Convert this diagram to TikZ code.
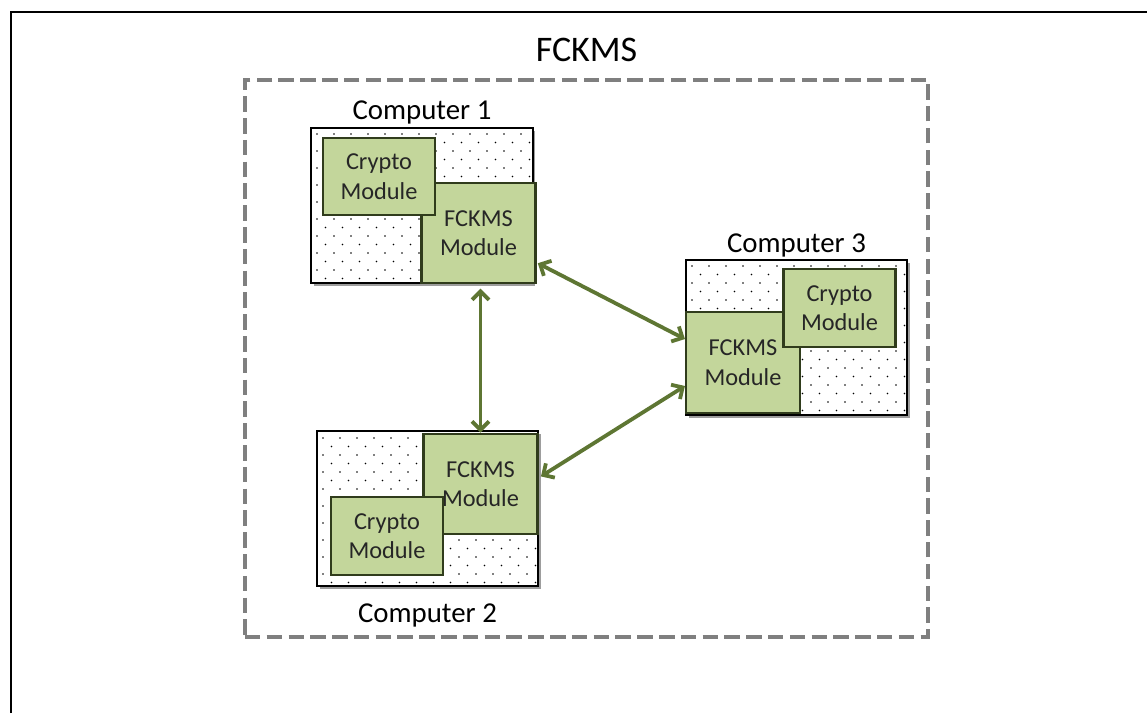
\documentclass[tikz,border=0pt]{standalone}
\usepackage{fontspec}
\setmainfont{Carlito}
\usetikzlibrary{positioning,arrows.meta,shadows}

\definecolor{modfill}{HTML}{C3D69B}
\definecolor{moddraw}{HTML}{303C1C}
\definecolor{linkgreen}{HTML}{5E7633}
\definecolor{dashgray}{HTML}{7F7F7F}

\begin{document}
\begin{tikzpicture}[x=0.025cm,y=-0.025cm,
  compbox/.style={draw=black,line width=1.3pt,fill=white,inner sep=0pt,
    minimum width=5.53cm,minimum height=3.87cm,
    drop shadow={shadow xshift=2pt,shadow yshift=-2pt,fill=black!55,opacity=.7}},
  module/.style={draw=moddraw,line width=1.5pt,fill=modfill,inner sep=0pt,
    align=center,text=black!85,font=\fontsize{17.3}{21}\selectfont},
  fckmsmod/.style={module,minimum width=2.85cm,minimum height=2.52cm},
  cryptomod/.style={module,minimum width=2.8cm,minimum height=1.93cm},
  complabel/.style={font=\fontsize{20.5}{24}\selectfont,inner sep=1pt},
  link/.style={draw=linkgreen,line width=2.7pt,
    {Straight Barb[length=6pt,width=12pt]}-{Straight Barb[length=6pt,width=12pt]}}]
  \useasboundingbox (0,0) rectangle (1147,713);
  \draw[line width=1.8pt] (11,713) -- (11,12) -- (1147,12);
  % the whole system
  \node[draw=dashgray,line width=2.4pt,dash pattern=on 11pt off 4.5pt,
        minimum width=17.075cm,minimum height=13.925cm] (fckmsbox) at (586.5,358.5) {};
  \node[font=\fontsize{25.6}{30}\selectfont,above=8pt of fckmsbox] (title) {FCKMS};
  % computers
  \node[compbox] (comp1) at (422,205.5) {};
  \node[compbox] (comp3) at (796.5,337.5) {};
  \node[compbox] (comp2) at (427.5,508.5) {};
  \foreach \bx/\by in {311/128,686/260,317/432}{% dotted fill of each computer
    \begin{scope}
      \clip (\bx+1.5,\by+1.5) rectangle ++(218,151);
      \foreach \i in {0,...,18}{
        \foreach \j in {0,...,13}{
          \fill ({\bx+6+17*\j+8.5*mod(\i,2)},{\by+6+8.5*\i}) circle (.6pt);
        }
      }
    \end{scope}
  }
  % modules
  \node[fckmsmod] (fckms1) at (478.5,233) {FCKMS\\Module};
  \node[cryptomod] (crypto1) at (379,176.5) {Crypto\\Module};
  \node[fckmsmod] (fckms3) at (743,362.5) {FCKMS\\Module};
  \node[cryptomod] (crypto3) at (839.5,308) {Crypto\\Module};
  \node[fckmsmod] (fckms2) at (480.5,484) {FCKMS\\Module};
  \node[cryptomod] (crypto2) at (387,536) {Crypto\\Module};
  \node[complabel,above=1pt of comp1] (lbl1) {Computer 1};
  \node[complabel,above=0pt of comp3] (lbl3) {Computer 3};
  \node[complabel,below=11pt of comp2] (lbl2) {Computer 2};
  % links
  \draw[link,shorten <=3pt] (fckms1.south -| fckms2.north) -- (fckms2.north);
  \draw[link,shorten <=1pt] (fckms1.-27) -- (fckms3.158);
  \draw[link,shorten <=2pt] (fckms2.6) -- (fckms3.202);
\end{tikzpicture}
\end{document}
